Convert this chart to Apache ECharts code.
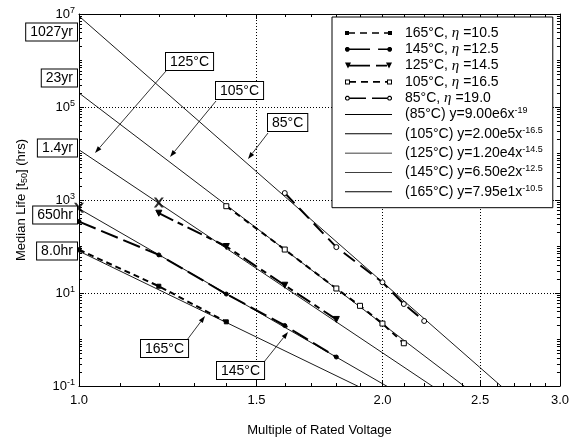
<!DOCTYPE html>
<html>
<head>
<meta charset="utf-8">
<script src="https://cdn.jsdelivr.net/npm/echarts@6/dist/echarts.min.js"></script>
<style>
  html, body { margin: 0; padding: 0; background: #fff; }
  #chart { width: 572px; height: 442px; }
</style>
</head>
<body>
<div id="chart"></div>
<script>
// ---- axis ticks ----
const xTickValues = [1.0, 1.5, 2.0, 2.5, 3.0];
const xTickLabels = ['1.0', '1.5', '2.0', '2.5', '3.0'];
const xMinorValues = [1.1, 1.2, 1.3, 1.4, 1.6, 1.7, 1.8, 1.9, 2.1, 2.2, 2.3, 2.4, 2.6, 2.7, 2.8, 2.9];
const yTickExps = [-1, 1, 3, 5, 7];

// ---- test data: multiple of rated voltage -> median life (hrs) ----
const temps = ['165°C', '145°C', '125°C', '105°C', '85°C'];
const etas = ['10.5', '12.5', '14.5', '16.5', '19.0'];
const volt165 = [1.0, 1.2, 1.4];
const life165 = [85, 14, 2.4];
const volt145 = [1.0, 1.2, 1.4, 1.6, 1.8];
const life145 = [344, 66, 9.5, 2.0, 0.42];
const volt125 = [1.2, 1.4, 1.6, 1.8];
const life125 = [520, 100, 14.7, 2.7];
const volt105 = [1.4, 1.6, 1.8, 1.9, 2.0, 2.1];
const life105 = [736, 86, 12.5, 5.3, 2.2, 0.83];
const volt85 = [1.6, 1.8, 2.0, 2.1, 2.2];
const life85 = [1410, 97, 17, 5.8, 2.5];

// ---- fitted power laws y = a * x^b (from the legend) ----
const fitTemps = ['85°C', '105°C', '125°C', '145°C', '165°C'];
const fitCoef = ['9.00e6', '2.00e5', '1.20e4', '6.50e2', '7.95e1'];
const fitPow = ['-19', '-16.5', '-14.5', '-12.5', '-10.5'];

// ---- points marked with X ----
const crossVolt = [1.0, 1.2];
const crossLife = [680, 880];

const FONT = 'Liberation Sans';
const lg = Math.log10;
const LOG3 = lg(3);

const volts = [volt165, volt145, volt125, volt105, volt85];
const lives = [life165, life145, life125, life105, life85];

// look of each measured series (same order as temps)
const looks = [
  { symbol: 'rect', size: 4, fill: '#000', dash: [6, 4], rotate: 0 },
  { symbol: 'circle', size: 4, fill: '#000', dash: [18, 6], rotate: 0 },
  { symbol: 'triangle', size: 6, fill: '#000', dash: [16, 5, 6, 5], rotate: 180 },
  { symbol: 'rect', size: 5, fill: '#fff', dash: [6, 5], rotate: 0 },
  { symbol: 'circle', size: 5, fill: '#fff', dash: [14, 7], rotate: 0 }
];

// legend icons: dashed sample with a marker at each end (47 x 6 box)
function sq(x, y, s, ccw) {
  return ccw ? `M${x},${y}v${s}h${s}v${-s}Z` : `M${x},${y}h${s}v${s}h${-s}Z`;
}
function oct(cx, cy, r, ccw) {
  const pts = [];
  for (let k = 0; k < 8; k++) {
    const a = (ccw ? -1 : 1) * (Math.PI / 8 + k * Math.PI / 4);
    pts.push((cx + r * Math.cos(a)).toFixed(2) + ',' + (cy + r * Math.sin(a)).toFixed(2));
  }
  return 'M' + pts.join('L') + 'Z';
}
function dashes(segs) {
  return segs.map(s => `M${s[0]},2.2h${s[1] - s[0]}v1.6h${s[0] - s[1]}Z`).join('');
}
function triDown(cx) {
  return `M${cx - 3},0h6L${cx},6Z`;
}
const icons = [
  sq(0, 1, 4) + sq(43, 1, 4) + dashes([[4, 10], [15, 22], [27, 34], [39, 43]]),
  oct(2.5, 3, 2.5) + oct(44.5, 3, 2.5) + dashes([[2, 25], [33, 45]]),
  triDown(3) + triDown(44) + dashes([[3, 25], [31, 42]]),
  sq(0, 0.5, 5) + sq(1, 1.5, 3, true) + sq(42, 0.5, 5) + sq(43, 1.5, 3, true) + dashes([[5, 11], [16, 23], [28, 35], [40, 42]]),
  oct(2.5, 3, 2.6) + oct(2.5, 3, 1.4, true) + oct(44.5, 3, 2.6) + oct(44.5, 3, 1.4, true) + dashes([[5, 21], [27, 42]])
];
const fitIcon = 'M0,2.6h47v0.9h-47Z';

const series = [];
const legendData = [];

temps.forEach((t, i) => {
  const lk = looks[i];
  const name = t + ', η =' + etas[i];
  legendData.push({ name: name, icon: 'path://' + icons[i], itemStyle: { color: '#000', borderWidth: 0 } });
  series.push({
    name: name,
    type: 'line',
    data: volts[i].map((v, j) => [lg(v), lg(lives[i][j])]),
    symbol: lk.symbol,
    symbolSize: lk.size,
    symbolRotate: lk.rotate,
    showAllSymbol: true,
    itemStyle: { color: lk.fill, borderColor: '#000', borderWidth: 1 },
    lineStyle: { color: '#000', width: 2, type: lk.dash },
    z: 3
  });
});

fitTemps.forEach((t, i) => {
  const a = Number(fitCoef[i]);
  const b = Number(fitPow[i]);
  const name = '(' + t + ') y=' + fitCoef[i] + 'x^' + fitPow[i];
  legendData.push({ name: name, icon: 'path://' + fitIcon, itemStyle: { color: '#000', borderWidth: 0 } });
  series.push({
    name: name,
    type: 'line',
    data: [[0, lg(a)], [LOG3, lg(a) + b * LOG3]],
    symbol: 'none',
    itemStyle: { color: '#000' },
    lineStyle: { color: '#000', width: 0.9 },
    z: 2
  });
});

series.push({
  type: 'scatter',
  data: crossVolt.map((v, j) => [lg(v), lg(crossLife[j])]),
  symbol: 'path://M0,0 L2.4,0 L5,3.2 L7.6,0 L10,0 L6.3,5 L10,10 L7.6,10 L5,6.8 L2.4,10 L0,10 L3.7,5 Z',
  symbolSize: 10,
  itemStyle: { color: '#000' },
  z: 4
});

// ---- axes ----
function xAxis(pos, ticks, len, main) {
  return {
    type: 'value', position: pos, min: 0, max: LOG3,
    axisLine: { show: main, onZero: false, lineStyle: { color: '#000', width: 1 } },
    axisTick: { show: true, inside: true, length: len, customValues: ticks.map(lg), lineStyle: { color: '#000' } },
    axisLabel: {
      show: main && pos === 'bottom',
      customValues: xTickValues.map(lg),
      margin: 8, color: '#000', fontFamily: FONT, fontSize: 13,
      formatter: v => {
        const k = xTickValues.findIndex(t => Math.abs(lg(t) - v) < 1e-6);
        return k < 0 ? '' : xTickLabels[k];
      }
    },
    splitLine: { show: main && pos === 'bottom', lineStyle: { color: '#000', type: [1, 2], width: 1 } }
  };
}
const yMinorExps = [];
for (let n = -1; n < 7; n++) {
  for (let k = 1; k < 10; k++) {
    if (k === 1 && yTickExps.indexOf(n) >= 0) continue;
    yMinorExps.push(lg(k) + n);
  }
}
function yAxis(pos, ticks, len, main) {
  return {
    type: 'value', position: pos, min: -1, max: 7,
    axisLine: { show: main, onZero: false, lineStyle: { color: '#000', width: 1 } },
    axisTick: { show: true, inside: true, length: len, customValues: ticks, lineStyle: { color: '#000' } },
    axisLabel: {
      show: main && pos === 'left',
      customValues: yTickExps,
      margin: 4, color: '#000',
      formatter: v => '{b|10}{s|' + Math.round(v) + '}',
      rich: {
        b: { fontFamily: FONT, fontSize: 13, lineHeight: 16, color: '#000' },
        s: { fontFamily: FONT, fontSize: 9, lineHeight: 6, verticalAlign: 'top', padding: [0, 0, 10, 0], color: '#000' }
      }
    },
    splitLine: { show: main && pos === 'left', lineStyle: { color: '#000', type: [1, 2], width: 1 } }
  };
}

const xAxes = [
  xAxis('bottom', xTickValues, 5, true),
  xAxis('bottom', xMinorValues, 3, false),
  xAxis('top', xTickValues, 5, true),
  xAxis('top', xMinorValues, 3, false)
];
xAxes[0].name = 'Multiple of Rated Voltage';
xAxes[0].nameLocation = 'middle';
xAxes[0].nameGap = 38;
xAxes[0].nameTextStyle = { fontFamily: FONT, fontSize: 13, color: '#000' };

const yAxes = [
  yAxis('left', yTickExps, 5, true),
  yAxis('left', yMinorExps, 3, false),
  yAxis('right', yTickExps, 5, true),
  yAxis('right', yMinorExps, 3, false)
];
yAxes[0].name = 'Median Life [t{sub|50}] (hrs)';
yAxes[0].nameLocation = 'middle';
yAxes[0].nameGap = 50;
yAxes[0].nameTextStyle = {
  fontFamily: FONT, fontSize: 13, lineHeight: 16, color: '#000',
  rich: { sub: { fontFamily: FONT, fontSize: 9, lineHeight: 6, verticalAlign: 'bottom', padding: [10, 0, 0, 0], color: '#000' } }
};

// ---- annotation boxes and arrows (pixel layout) ----
const lifeNotes = [['1027yr', 32], ['23yr', 78], ['1.4yr', 148], ['650hr', 215], ['8.0hr', 251]];
const tempNotes = [
  ['125°C', 166, 53, [[166, 71, 95, 153]]],
  ['105°C', 216, 82, [[216, 101, 170, 157]]],
  ['85°C', 268, 114, [[268, 133, 248, 159]]],
  ['165°C', 141, 340, [[187, 340, 205, 316]]],
  ['145°C', 217, 362, [[264, 362, 288, 332]]]
];

function arrow(x1, y1, x2, y2) {
  const ang = Math.atan2(y2 - y1, x2 - x1);
  const L = 7, W = 2.4;
  const bx = x2 - L * Math.cos(ang), by = y2 - L * Math.sin(ang);
  const px = -Math.sin(ang) * W, py = Math.cos(ang) * W;
  return [
    { type: 'line', z: 20, shape: { x1: x1, y1: y1, x2: bx, y2: by }, style: { stroke: '#000', lineWidth: 0.8 } },
    { type: 'polygon', z: 20, shape: { points: [[x2, y2], [bx + px, by + py], [bx - px, by - py]] }, style: { fill: '#000' } }
  ];
}
const boxStyle = {
  font: '14px "' + FONT + '"', fill: '#000', backgroundColor: '#fff',
  borderColor: '#000', borderWidth: 1, padding: [2, 4, 1, 4]
};
const graphics = [];
lifeNotes.forEach(([txt, y]) => {
  graphics.push({ type: 'text', z: 21, x: 77, y: y, style: Object.assign({ text: txt, align: 'right', verticalAlign: 'middle' }, boxStyle) });
});
tempNotes.forEach(([txt, x, y, arrows]) => {
  arrows.forEach(a => graphics.push(...arrow(a[0], a[1], a[2], a[3])));
  graphics.push({ type: 'text', z: 21, x: x, y: y, style: Object.assign({ text: txt, align: 'left', verticalAlign: 'top' }, boxStyle) });
});

const chart = echarts.init(document.getElementById('chart'));
chart.setOption({
  animation: false,
  backgroundColor: '#fff',
  textStyle: { fontFamily: FONT, color: '#000' },
  grid: { left: 79, top: 14, width: 482, height: 374 },
  xAxis: xAxes,
  yAxis: yAxes,
  legend: {
    orient: 'vertical', left: 332, top: 17,
    padding: [8, 10, 5, 13], itemGap: 0.3, itemWidth: 47, itemHeight: 6,
    borderColor: '#000', borderWidth: 1, backgroundColor: '#fff',
    selectedMode: false,
    data: legendData,
    formatter: n => n.replace('η', '{i|η}').replace(/\^(.*)$/, '{s|$1}'),
    textStyle: {
      fontFamily: FONT, fontSize: 14, lineHeight: 16, color: '#000', padding: [0, 0, 0, 8],
      rich: {
        i: { fontFamily: 'Liberation Serif', fontStyle: 'italic', fontSize: 15, lineHeight: 16, color: '#000' },
        s: { fontFamily: FONT, fontSize: 9, lineHeight: 6, verticalAlign: 'top', padding: [0, 0, 10, 0], color: '#000' }
      }
    }
  },
  graphic: graphics,
  series: series
});
</script>
</body>
</html>
